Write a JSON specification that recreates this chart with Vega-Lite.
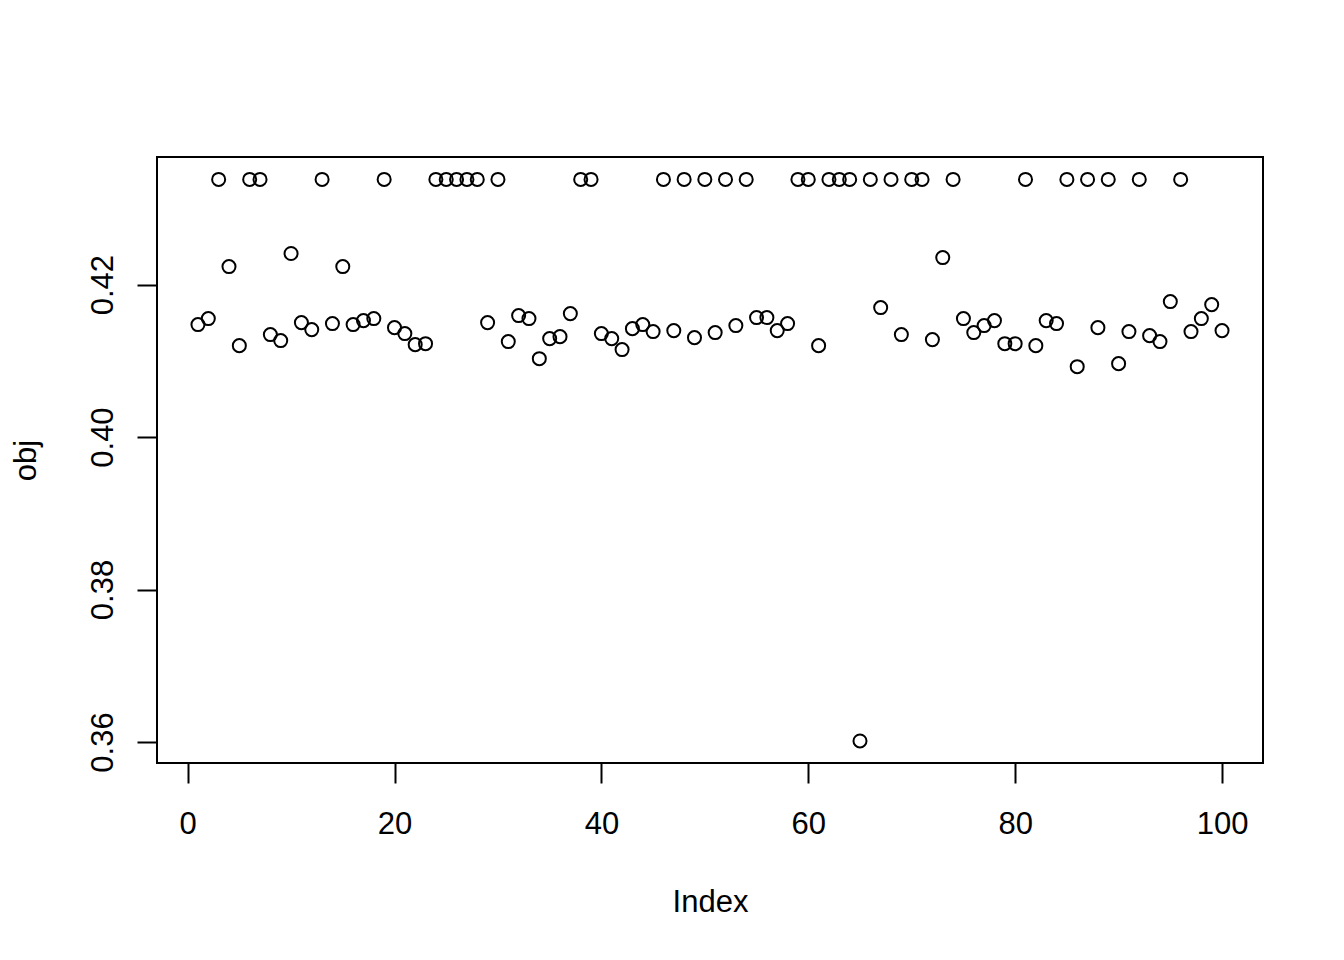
{
  "$schema": "https://vega.github.io/schema/vega-lite/v6.json",
  "width": 1106,
  "height": 606,
  "autosize": {"type": "none"},
  "padding": {"left": 157, "top": 157, "right": 81, "bottom": 197},
  "background": "white",
  "config": {
    "view": {"stroke": "black", "strokeWidth": 2},
    "font": "Liberation Sans"
  },
  "data": {
    "values": [
      {"Index": 1, "obj": 0.41475}, {"Index": 2, "obj": 0.41554}, {"Index": 3, "obj": 0.43379},
      {"Index": 4, "obj": 0.42236}, {"Index": 5, "obj": 0.41199}, {"Index": 6, "obj": 0.43379},
      {"Index": 7, "obj": 0.43379}, {"Index": 8, "obj": 0.41344}, {"Index": 9, "obj": 0.41265},
      {"Index": 10, "obj": 0.42407}, {"Index": 11, "obj": 0.41501}, {"Index": 12, "obj": 0.41409},
      {"Index": 13, "obj": 0.43379}, {"Index": 14, "obj": 0.41488}, {"Index": 15, "obj": 0.42236},
      {"Index": 16, "obj": 0.41475}, {"Index": 17, "obj": 0.41527}, {"Index": 18, "obj": 0.41554},
      {"Index": 19, "obj": 0.43379}, {"Index": 20, "obj": 0.41435}, {"Index": 21, "obj": 0.41357},
      {"Index": 22, "obj": 0.41212}, {"Index": 23, "obj": 0.41225}, {"Index": 24, "obj": 0.43379},
      {"Index": 25, "obj": 0.43379}, {"Index": 26, "obj": 0.43379}, {"Index": 27, "obj": 0.43379},
      {"Index": 28, "obj": 0.43379}, {"Index": 29, "obj": 0.41501}, {"Index": 30, "obj": 0.43379},
      {"Index": 31, "obj": 0.41252}, {"Index": 32, "obj": 0.41593}, {"Index": 33, "obj": 0.41554},
      {"Index": 34, "obj": 0.41028}, {"Index": 35, "obj": 0.41291}, {"Index": 36, "obj": 0.41317},
      {"Index": 37, "obj": 0.41619}, {"Index": 38, "obj": 0.43379}, {"Index": 39, "obj": 0.43379},
      {"Index": 40, "obj": 0.41357}, {"Index": 41, "obj": 0.41291}, {"Index": 42, "obj": 0.41147},
      {"Index": 43, "obj": 0.41422}, {"Index": 44, "obj": 0.41475}, {"Index": 45, "obj": 0.41383},
      {"Index": 46, "obj": 0.43379}, {"Index": 47, "obj": 0.41396}, {"Index": 48, "obj": 0.43379},
      {"Index": 49, "obj": 0.41304}, {"Index": 50, "obj": 0.43379}, {"Index": 51, "obj": 0.4137},
      {"Index": 52, "obj": 0.43379}, {"Index": 53, "obj": 0.41462}, {"Index": 54, "obj": 0.43379},
      {"Index": 55, "obj": 0.41567}, {"Index": 56, "obj": 0.41567}, {"Index": 57, "obj": 0.41396},
      {"Index": 58, "obj": 0.41488}, {"Index": 59, "obj": 0.43379}, {"Index": 60, "obj": 0.43379},
      {"Index": 61, "obj": 0.41199}, {"Index": 62, "obj": 0.43379}, {"Index": 63, "obj": 0.43379},
      {"Index": 64, "obj": 0.43379}, {"Index": 65, "obj": 0.36014}, {"Index": 66, "obj": 0.43379},
      {"Index": 67, "obj": 0.41698}, {"Index": 68, "obj": 0.43379}, {"Index": 69, "obj": 0.41344},
      {"Index": 70, "obj": 0.43379}, {"Index": 71, "obj": 0.43379}, {"Index": 72, "obj": 0.41278},
      {"Index": 73, "obj": 0.42354}, {"Index": 74, "obj": 0.43379}, {"Index": 75, "obj": 0.41554},
      {"Index": 76, "obj": 0.4137}, {"Index": 77, "obj": 0.41462}, {"Index": 78, "obj": 0.41527},
      {"Index": 79, "obj": 0.41225}, {"Index": 80, "obj": 0.41225}, {"Index": 81, "obj": 0.43379},
      {"Index": 82, "obj": 0.41199}, {"Index": 83, "obj": 0.41527}, {"Index": 84, "obj": 0.41488},
      {"Index": 85, "obj": 0.43379}, {"Index": 86, "obj": 0.40923}, {"Index": 87, "obj": 0.43379},
      {"Index": 88, "obj": 0.41435}, {"Index": 89, "obj": 0.43379}, {"Index": 90, "obj": 0.40963},
      {"Index": 91, "obj": 0.41383}, {"Index": 92, "obj": 0.43379}, {"Index": 93, "obj": 0.4133},
      {"Index": 94, "obj": 0.41252}, {"Index": 95, "obj": 0.41777}, {"Index": 96, "obj": 0.43379},
      {"Index": 97, "obj": 0.41383}, {"Index": 98, "obj": 0.41554}, {"Index": 99, "obj": 0.41737},
      {"Index": 100, "obj": 0.41396}
    ]
  },
  "mark": {
    "type": "point",
    "filled": false,
    "shape": "circle",
    "color": "black",
    "strokeWidth": 2,
    "size": 170,
    "opacity": 1
  },
  "encoding": {
    "x": {
      "field": "Index",
      "type": "quantitative",
      "scale": {"domain": [-2.96, 103.96], "nice": false, "zero": false},
      "axis": {
        "title": "Index",
        "values": [0, 20, 40, 60, 80, 100],
        "grid": false,
        "domain": false,
        "tickSize": 20,
        "tickWidth": 2,
        "tickColor": "black",
        "labelFontSize": 31,
        "labelColor": "black",
        "labelPadding": 26,
        "labelBaseline": "top",
        "labelFlush": false,
        "titleFontSize": 31,
        "titleFontWeight": "normal",
        "titleColor": "black",
        "titleBaseline": "alphabetic",
        "titleY": 148
      }
    },
    "y": {
      "field": "obj",
      "type": "quantitative",
      "scale": {"domain": [0.35725, 0.43673], "nice": false, "zero": false},
      "axis": {
        "title": "obj",
        "values": [0.36, 0.38, 0.40, 0.42],
        "format": ".2f",
        "grid": false,
        "domain": false,
        "tickSize": 20,
        "tickWidth": 2,
        "tickColor": "black",
        "labelFontSize": 31,
        "labelColor": "black",
        "labelAngle": -90,
        "labelAlign": "center",
        "labelBaseline": "alphabetic",
        "labelPadding": 25,
        "labelFlush": false,
        "titleFontSize": 31,
        "titleFontWeight": "normal",
        "titleColor": "black",
        "titleAngle": -90,
        "titleAlign": "center",
        "titleBaseline": "alphabetic",
        "titleX": -122,
        "titleY": 303
      }
    }
  }
}
